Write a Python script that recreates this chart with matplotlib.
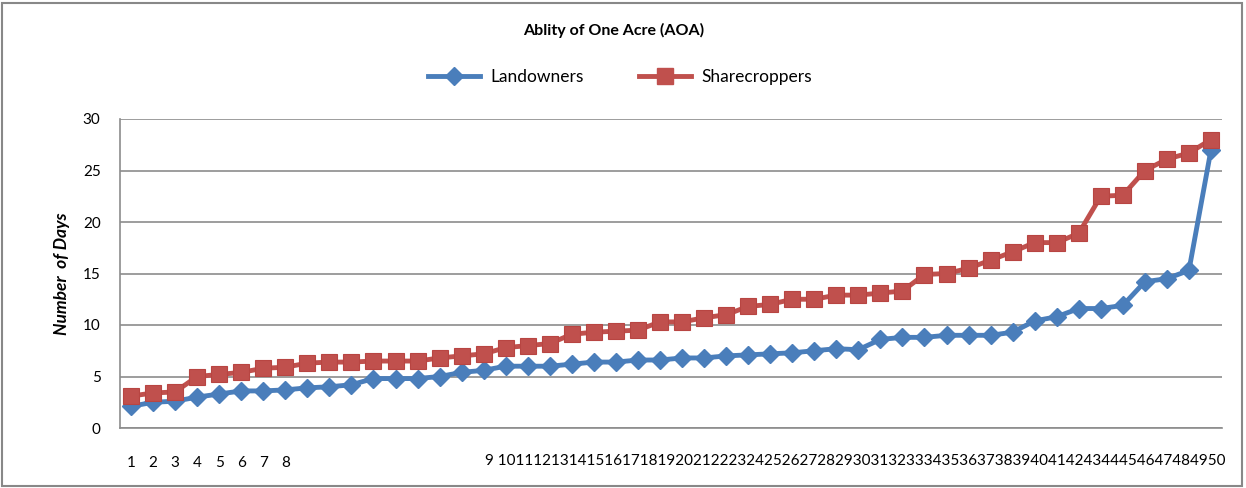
import matplotlib.pyplot as plt
from matplotlib.lines import Line2D
from matplotlib.patches import Rectangle
from matplotlib.transforms import blended_transform_factory

# values
respondents = list(range(1, 51))
landowners = [2.1, 2.5, 2.6, 3.0, 3.3, 3.6, 3.6, 3.7, 3.9, 4.0,
              4.2, 4.8, 4.8, 4.8, 5.0, 5.4, 5.6, 6.0, 6.0, 6.0,
              6.2, 6.4, 6.4, 6.6, 6.6, 6.8, 6.8, 7.0, 7.1, 7.2,
              7.3, 7.5, 7.7, 7.6, 8.6, 8.8, 8.8, 9.0, 9.0, 9.0,
              9.3, 10.4, 10.8, 11.6, 11.6, 11.9, 14.2, 14.5, 15.3, 27.0]
sharecroppers = [3.1, 3.4, 3.5, 5.0, 5.2, 5.4, 5.8, 5.9, 6.3, 6.4,
                 6.4, 6.5, 6.5, 6.5, 6.8, 7.0, 7.2, 7.8, 8.0, 8.2,
                 9.1, 9.3, 9.4, 9.5, 10.3, 10.3, 10.7, 11.0, 11.8, 12.0,
                 12.5, 12.5, 12.9, 12.9, 13.1, 13.3, 14.9, 15.0, 15.5, 16.3,
                 17.1, 18.0, 18.0, 18.9, 22.5, 22.6, 25.0, 26.1, 26.7, 28.0]
first_labels = ["1", "2", "3", "4", "5", "6", "7", "8"]
rest_label = "9 " + "".join(str(i) for i in range(10, 51))
y_ticks = [0, 5, 10, 15, 20, 25, 30]

BLUE = "#4A7EBB"
RED = "#C0504D"
GRID = "#8C8C8C"

plt.rcParams["font.family"] = ["Lato", "DejaVu Sans"]

fig = plt.figure(figsize=(12.46, 4.88), dpi=100)
W, H = 1246, 488
ax = fig.add_axes([120 / W, 1 - 428 / H, (1222 - 120) / W, (428 - 119) / H])

ax.plot(respondents, landowners, color=BLUE, lw=3.5, marker="D",
        markersize=9, markerfacecolor=BLUE, markeredgecolor=BLUE, zorder=3)
ax.plot(respondents, sharecroppers, color=RED, lw=3.5, marker="s",
        markersize=12, markerfacecolor=RED, markeredgecolor="#B84542",
        markeredgewidth=0.8, zorder=4)

ax.set_xlim(0.5, 50.5)
ax.set_ylim(0, 30)
ax.set_yticks(y_ticks)
ax.set_yticklabels([str(v) for v in y_ticks], fontsize=11)
ax.set_xticks(respondents[:len(first_labels)])
ax.set_xticklabels(first_labels, fontsize=11)
ax.tick_params(axis="x", length=0, pad=20)
ax.tick_params(axis="y", length=0, pad=14)
ax.grid(axis="y", color=GRID, lw=1.2)
ax.set_axisbelow(True)
for side in ["top", "right"]:
    ax.spines[side].set_visible(False)
for side in ["left", "bottom"]:
    ax.spines[side].set_color(GRID)
    ax.spines[side].set_linewidth(1.2)

trans = blended_transform_factory(ax.transAxes, ax.transAxes)
ax.text(1.003, -(461 - 428) / (428 - 119), rest_label, transform=trans,
        ha="right", va="center", fontsize=11)

ax.set_ylabel("Number  of Days", fontsize=12.5, fontweight="bold",
              fontstyle="italic", labelpad=9)

fig.text(614 / W, 1 - 30 / H, "Ablity of One Acre (AOA)", ha="center",
         va="center", fontsize=11.5, fontweight="bold")

handles = [
    Line2D([], [], color=BLUE, lw=3.5, marker="D", markersize=9),
    Line2D([], [], color=RED, lw=3.5, marker="s", markersize=12),
]
fig.legend(handles, ["Landowners", "Sharecroppers"], loc="center",
           bbox_to_anchor=(620 / W, 1 - 77 / H), ncol=2, frameon=False,
           fontsize=12.5, handlelength=3.0, columnspacing=3.2, handletextpad=0.6)

fig.patches.append(Rectangle((2 / W, 2 / H), 1240 / W, 483 / H,
                             transform=fig.transFigure, fill=False,
                             edgecolor="#888888", lw=1.5))

fig.savefig("out.png", dpi=100)
